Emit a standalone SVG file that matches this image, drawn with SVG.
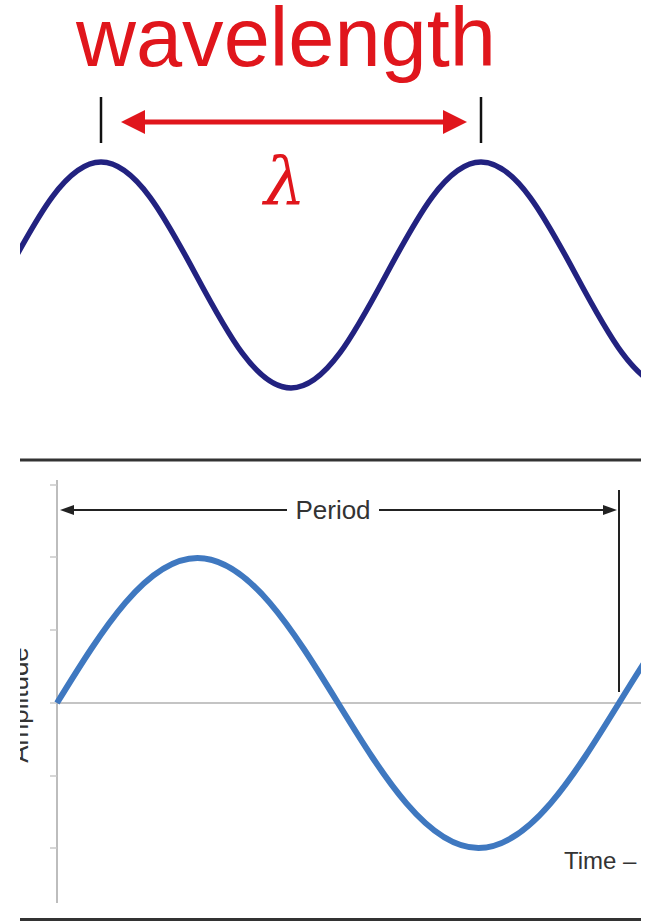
<svg xmlns="http://www.w3.org/2000/svg" width="648" height="922" viewBox="0 0 648 922">
<style>
.sans{font-family:"Liberation Sans",Arial,sans-serif}
.red{fill:#e0161c}
.dark{fill:#333}
.axis{stroke:#bdbdbd;stroke-width:2;fill:none}
.tick{stroke:#c8c8c8;stroke-width:1.5}
.sep{stroke:#333;stroke-width:3}
</style>
<defs>
<clipPath id="frame"><rect x="20" y="0" width="621" height="922"/></clipPath>
<marker id="redHead" viewBox="0 0 24 24" refX="4" refY="12" markerWidth="24" markerHeight="24" markerUnits="userSpaceOnUse" orient="auto-start-reverse">
<path d="M0,0 L24,12 L0,24 z" fill="#e0161c"/>
</marker>
<marker id="blackHead" viewBox="0 0 14 10" refX="2" refY="5" markerWidth="14" markerHeight="10" markerUnits="userSpaceOnUse" orient="auto-start-reverse">
<path d="M0,0 L14,5 L0,10 z" fill="#222"/>
</marker>
</defs>
<rect width="648" height="922" fill="#fff"/>
<g clip-path="url(#frame)">
<g id="wavelength-label"><text class="sans red" x="76" y="66" font-size="83" textLength="420" lengthAdjust="spacingAndGlyphs">wavelength</text></g>
<g id="lambda-label"><text x="285" y="204" font-family="'DejaVu Serif','Liberation Serif',serif" font-style="italic" font-size="66" text-anchor="middle" class="red">λ</text></g>
<g id="crest-ticks" stroke="#111" stroke-width="2.5">
<line x1="101" y1="97" x2="101" y2="143"/>
<line x1="481" y1="97" x2="481" y2="143"/>
</g>
<g id="top-wave">
<path d="M6,275 C37,217.1 66.8,162 101,162 C135.2,162 165,217.1 196,275 C227,332.9 256.8,388 291,388 C325.2,388 355,332.9 386,275 C417,217.1 446.8,162 481,162 C515.2,162 545,217.1 576,275 C607,332.9 636.8,388 671,388" fill="none" stroke="#222280" stroke-width="5.5"/>
</g>
<g id="separators">
<line class="sep" x1="20" y1="460" x2="641" y2="460"/>
<line class="sep" x1="20" y1="919.5" x2="641" y2="919.5"/>
</g>
<g id="axes">
<line class="axis" x1="57" y1="480" x2="57" y2="903"/>
<g class="tick">
<line x1="50" y1="485" x2="57" y2="485"/>
<line x1="50" y1="557" x2="57" y2="557"/>
<line x1="50" y1="630" x2="57" y2="630"/>
<line x1="50" y1="703" x2="57" y2="703"/>
<line x1="50" y1="776" x2="57" y2="776"/>
<line x1="50" y1="848" x2="57" y2="848"/>
</g>
<line x1="57" y1="703" x2="641" y2="703" stroke="#b0b0b0" stroke-width="1.5"/>
</g>
<g id="amplitude-label"><text class="sans dark" font-size="26" text-anchor="middle" transform="translate(28,705) rotate(-90)">Amplitude</text></g>
<g id="period-end"><line x1="619" y1="490" x2="619" y2="692" stroke="#222" stroke-width="2"/></g>
<g id="bottom-wave">
<path d="M57,703 C102.8,628.7 146.9,558 197.5,558 C248.1,558 292.2,628.7 338,703 C383.8,777.3 427.9,848 478.5,848 C529.1,848 573.2,777.3 619,703 C664.8,628.7 708.9,558 759.5,558" fill="none" stroke="#3f78c0" stroke-width="6"/>
</g>
<g id="period-label"><text class="sans dark" x="333" y="519" font-size="26" text-anchor="middle">Period</text></g>
<g id="time-label"><text class="sans dark" x="564" y="869" font-size="24">Time –</text></g>
<g id="connectors">
<line x1="141" y1="122" x2="447" y2="122" stroke="#e0161c" stroke-width="5" marker-start="url(#redHead)" marker-end="url(#redHead)"/>
<line x1="72" y1="510" x2="287" y2="510" stroke="#222" stroke-width="2" marker-start="url(#blackHead)"/>
<line x1="379" y1="510" x2="605" y2="510" stroke="#222" stroke-width="2" marker-end="url(#blackHead)"/>
</g>
</g>
</svg>
